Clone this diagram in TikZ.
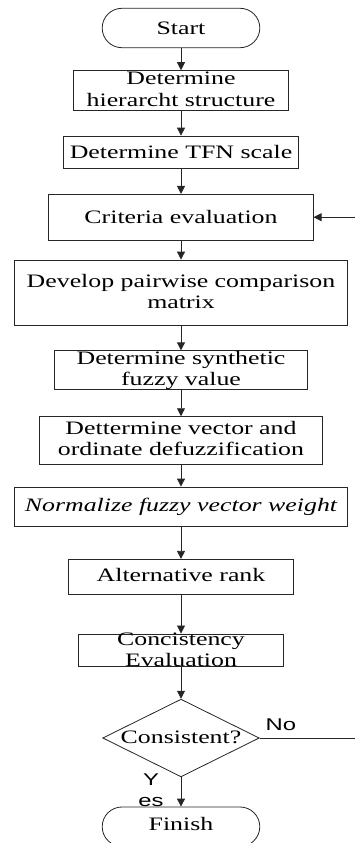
\documentclass[tikz,border=0pt]{standalone}
\usepackage{fontspec}
\setmainfont{Liberation Serif}[FakeStretch=1.36]
\newfontfamily\labelfont{Liberation Sans}[FakeStretch=1.4]
\usetikzlibrary{arrows.meta,shapes.geometric}
\begin{document}
\begin{tikzpicture}[x=1pt,y=-1pt,
  box/.style={draw=black!85, line width=0.8pt, inner sep=0pt, align=center,
    font=\fontsize{19}{21}\selectfont, text height=14pt},
  term/.style={box, rounded corners=19.7pt},
  decision/.style={box, diamond, aspect=2},
  flow/.style={draw=black!85, line width=0.8pt, -{Triangle[length=8pt,width=8pt]}},
  lbl/.style={inner sep=0pt, align=center, font=\labelfont\fontsize{17}{21}\selectfont}]
\useasboundingbox (0,0) rectangle (355,843);

\node[term, minimum width=157.6, minimum height=39.4, text depth=1.4pt] (start) at (181,28) {Start};
\node[box, minimum width=215.4, minimum height=39.3, text height=34pt, text depth=2.6pt] (b2) at (181,90.3) {Determine\\hierarcht structure};
\node[box, minimum width=235, minimum height=32.3, text depth=1.8pt] (b3) at (181,152.2) {Determine TFN scale};
\node[box, minimum width=264.3, minimum height=45.7, text depth=1.8pt] (b4) at (181,217.2) {Criteria evaluation};
\node[box, minimum width=333.4, minimum height=65, text height=34pt, text depth=2.4pt] (b5) at (181,292.5) {Develop pairwise comparison\\matrix};
\node[box, minimum width=253, minimum height=38.3, text height=33pt, text depth=2.8pt] (b6) at (181,369.9) {Determine synthetic\\fuzzy value};
\node[box, minimum width=282.4, minimum height=47.3, text height=34pt, text depth=4.6pt] (b7) at (181,440.3) {Dettermine vector and\\ordinate defuzzification};
\node[box, minimum width=332.4, minimum height=39, text depth=3.6pt] (b8) at (181,506.5) {\itshape Normalize fuzzy vector weight};
\node[box, minimum width=225, minimum height=35, text depth=4.2pt] (b9) at (181,576.8) {Alternative rank};
\node[box, minimum width=205.4, minimum height=32.7, text height=32pt, text depth=0.6pt] (b10) at (181,650.3) {Concistency\\Evaluation};
\node[decision, minimum width=156.6, minimum height=77.4, text depth=3.4pt] (dec) at (181,738) {Consistent?};
\node[term, minimum width=157.6, minimum height=39.4, text depth=6pt] (finish) at (181,826.7) {Finish};

\node[lbl, anchor=base west] (no) at (265.5,730) {No};
\node[lbl, anchor=base] (yes) at (151,806) {Y\\es};

\coordinate (fbot) at (356,738);
\coordinate (ftop) at (356,217.2);

\draw[flow] (start) -- (b2);
\draw[flow] (b2) -- (b3);
\draw[flow] (b3) -- (b4);
\draw[flow] (b4) -- (b5);
\draw[flow] (b5) -- (b6);
\draw[flow] (b6) -- (b7);
\draw[flow] (b7) -- (b8);
\draw[flow] (b8) -- (b9);
\draw[flow] (b9) -- (b10);
\draw[flow] (b10) -- (dec);
\draw[flow] (dec) -- (finish);
\draw[flow] (dec.east) -- (fbot) -- (ftop) -- (b4.east);
\end{tikzpicture}
\end{document}
